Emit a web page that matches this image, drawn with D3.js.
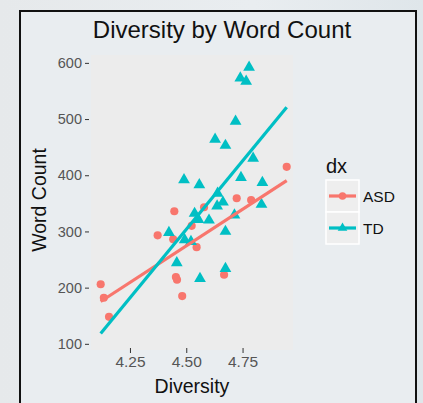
<!DOCTYPE html>
<html>
<head>
<meta charset="utf-8">
<script src="https://cdn.jsdelivr.net/npm/d3@7"></script>
<style>
body{margin:0;background:linear-gradient(90deg,#e6e9eb,#e9edf0 60%,#dfe6ea);}
svg{display:block;font-family:"Liberation Sans",Arial,sans-serif;}
</style>
</head>
<body>
<div id="chart"></div>
<script>
var width = 423
var height = 403

// values
var asdDiversity = [4.12,4.134,4.157,4.373,4.447,4.442,4.454,4.459,4.482,4.524,4.546,4.579,4.668,4.724,4.788,4.946]
var asdWords     = [206,182,148,293,336,286,219,214,185,310,272,343,223,359,356,415]
var tdDiversity  = [4.779,4.740,4.766,4.719,4.628,4.674,4.797,4.743,4.838,4.490,4.558,4.639,4.663,4.637,4.834,4.537,4.554,4.601,4.714,4.423,4.493,4.521,4.674,4.458,4.561,4.674]
var tdWords      = [592,573,567,496,464,453,430,396,387,392,383,368,352,345,348,332,321,320,329,298,285,282,300,244,216,234]
var groups = ["ASD","TD"]
var colors = ["#F8766D","#00BFC4"]
var yTicks = [100,200,300,400,500,600]
var xTicks = [4.25,4.50,4.75]

var svg = d3.select("#chart").append("svg")
.attr("width",width)
.attr("height",height)

// framed box
svg.append("rect")
.attr("x",20).attr("y",11)
.attr("width",396).attr("height",400)
.style("fill","#e9edf0")
.style("stroke","#111")
.style("stroke-width",2)

var pLeft = 91, pRight = 293, pTop = 55, pBottom = 350

var x = d3.scaleLinear().domain([4.077,4.974]).range([pLeft,pRight])
var y = d3.scaleLinear().domain([89,614]).range([pBottom,pTop])

svg.append("rect")
.attr("x",pLeft).attr("y",pTop)
.attr("width",pRight-pLeft).attr("height",pBottom-pTop)
.style("fill","#ececec")

var yAxis = svg.append("g")
.attr("transform","translate("+(pLeft-2)+",0)")
.call(d3.axisLeft(y).tickValues(yTicks).tickSize(4).tickPadding(3))
yAxis.select(".domain").remove()
yAxis.selectAll("line").style("stroke","#333")
yAxis.selectAll("text").style("fill","#555").style("font-size","14.5px")

var xAxis = svg.append("g")
.attr("transform","translate(0,"+(pBottom-2)+")")
.call(d3.axisBottom(x).tickValues(xTicks).tickFormat(d3.format(".2f")).tickSize(5).tickPadding(3))
xAxis.select(".domain").remove()
xAxis.selectAll("line").style("stroke","#333")
xAxis.selectAll("text").style("fill","#555").style("font-size","15.5px")

var data = [
  {name:groups[0], xs:asdDiversity, ys:asdWords},
  {name:groups[1], xs:tdDiversity, ys:tdWords}
]

var allX = asdDiversity.concat(tdDiversity)
var xmin = d3.min(allX), xmax = d3.max(allX)

function fit(xs,ys){
  var mx = d3.mean(xs), my = d3.mean(ys)
  var sxy = d3.sum(xs,(d,i)=>(d-mx)*(ys[i]-my))
  var sxx = d3.sum(xs,(d)=>(d-mx)*(d-mx))
  var b = sxy/sxx
  return {b:b, a:my-b*mx}
}

data.forEach((g,gi)=>{
  var pts = g.xs.map((d,i)=>[d,g.ys[i]])
  var sym = gi==0 ? d3.symbolCircle : d3.symbolTriangle
  svg.append("g").selectAll("path")
  .data(pts)
  .enter()
  .append("path")
  .attr("transform",(d)=>"translate("+x(d[0])+","+y(d[1])+")")
  .attr("d",d3.symbol().type(sym).size(gi==0?52:60))
  .style("fill",colors[gi])
})

data.forEach((g,gi)=>{
  var f = fit(g.xs,g.ys)
  svg.append("line")
  .attr("x1",x(xmin)).attr("y1",y(f.a+f.b*xmin))
  .attr("x2",x(xmax)).attr("y2",y(f.a+f.b*xmax))
  .style("stroke",colors[gi])
  .style("stroke-width",3.2)
})

// titles
svg.append("text")
.attr("x",222).attr("y",38)
.attr("text-anchor","middle")
.style("font-size","24px")
.style("fill","#111")
.text("Diversity by Word Count")

svg.append("text")
.attr("x",192).attr("y",393)
.attr("text-anchor","middle")
.style("font-size","19.5px")
.style("fill","#111")
.text("Diversity")

svg.append("text")
.attr("transform","translate(46,200)rotate(-90)")
.attr("text-anchor","middle")
.style("font-size","19.5px")
.style("fill","#111")
.text("Word Count")

// legend
var legend = svg.append("g")
legend.append("text")
.attr("x",326).attr("y",173)
.style("font-size","20px")
.style("fill","#111")
.text("dx")

groups.forEach((name,i)=>{
  var ky = 180 + i*32
  legend.append("rect")
  .attr("x",326).attr("y",ky)
  .attr("width",33).attr("height",32)
  .style("fill","#eeeeee")
  .style("stroke","#fff")
  .style("stroke-width",1.5)
  legend.append("line")
  .attr("x1",329).attr("x2",356)
  .attr("y1",ky+16).attr("y2",ky+16)
  .style("stroke",colors[i])
  .style("stroke-width",3.2)
  legend.append("path")
  .attr("transform","translate(342.5,"+(ky+16)+")")
  .attr("d",d3.symbol().type(i==0?d3.symbolCircle:d3.symbolTriangle).size(i==0?45:40))
  .style("fill",colors[i])
  legend.append("text")
  .attr("x",363).attr("y",ky+22)
  .style("font-size","15.5px")
  .style("fill","#111")
  .text(name)
})
</script>
</body>
</html>
